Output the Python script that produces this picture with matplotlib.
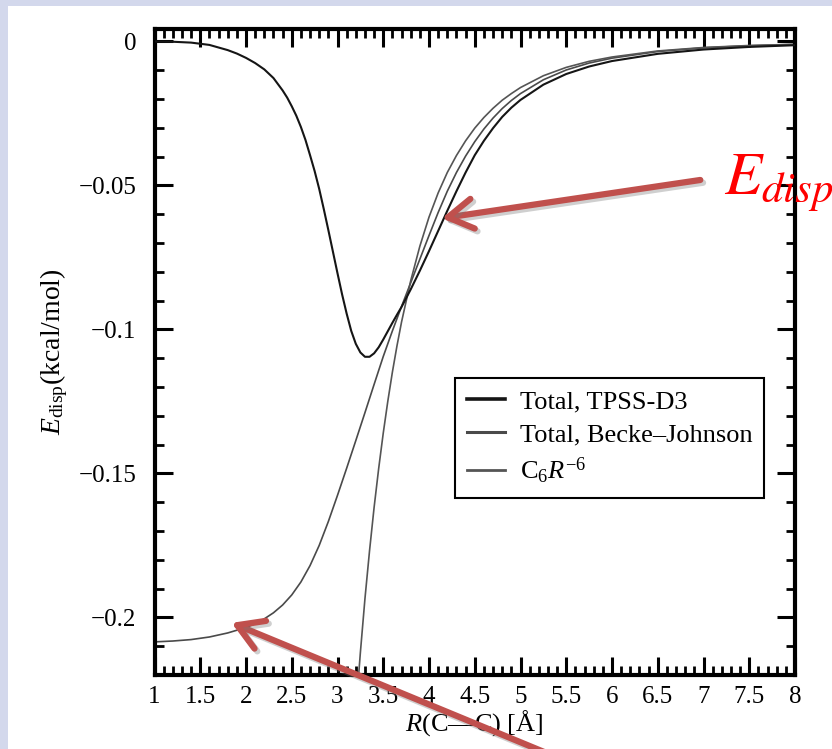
import numpy as np
import matplotlib
matplotlib.use("Agg")
import matplotlib.pyplot as plt
import matplotlib.patheffects as pe
from matplotlib.patches import Rectangle
from matplotlib.ticker import MultipleLocator, FixedLocator

plt.rcParams['font.family'] = ['Liberation Serif', 'DejaVu Serif']
plt.rcParams['mathtext.fontset'] = 'custom'
plt.rcParams['mathtext.rm'] = 'Liberation Serif'
plt.rcParams['mathtext.it'] = 'Liberation Serif:italic'

# ── Curves (R in Å, E in kcal/mol) ──
r_d3 = [1.0, 1.2, 1.4, 1.6, 1.8, 1.9, 2.0, 2.1, 2.2, 2.3, 2.4, 2.45, 2.5, 2.55,
        2.6, 2.65, 2.7, 2.75, 2.8, 2.85, 2.9, 2.95, 3.0, 3.05, 3.1, 3.15, 3.2,
        3.25, 3.3, 3.35, 3.4, 3.45, 3.5, 3.55, 3.6, 3.65, 3.7, 3.8, 3.9, 4.0,
        4.1, 4.2, 4.3, 4.4, 4.5, 4.6, 4.7, 4.8, 4.9, 5.0, 5.25, 5.5, 5.75, 6.0,
        6.5, 7.0, 7.5, 8.0]
e_d3 = [0.0, -0.0001, -0.0004, -0.0012, -0.0030, -0.0042, -0.0057, -0.0075,
        -0.0097, -0.0127, -0.0170, -0.0195, -0.0225, -0.0258, -0.0297, -0.0342,
        -0.0395, -0.0450, -0.0512, -0.0582, -0.0655, -0.0730, -0.0805, -0.0878,
        -0.0945, -0.1005, -0.1050, -0.1080, -0.1095, -0.1095, -0.1083, -0.1062,
        -0.1035, -0.1006, -0.0977, -0.0949, -0.0922, -0.0861, -0.0796, -0.0728,
        -0.0658, -0.0588, -0.0520, -0.0455, -0.0395, -0.0345, -0.0301, -0.0262,
        -0.0230, -0.0203, -0.0150, -0.0113, -0.0087, -0.0068, -0.0043, -0.0028,
        -0.0019, -0.0013]

r_bj = [1.0, 1.2, 1.4, 1.6, 1.8, 2.0, 2.1, 2.2, 2.3, 2.4, 2.5, 2.6, 2.7, 2.8,
        2.9, 3.0, 3.1, 3.2, 3.3, 3.4, 3.5, 3.6, 3.7, 3.8, 3.9, 4.0, 4.1, 4.2,
        4.3, 4.4, 4.5, 4.6, 4.7, 4.8, 4.9, 5.0, 5.25, 5.5, 5.75, 6.0, 6.5, 7.0,
        7.5, 8.0]
e_bj = [-0.2085, -0.2082, -0.2077, -0.2068, -0.2054, -0.2035, -0.2022, -0.2005,
        -0.1984, -0.1957, -0.1922, -0.1877, -0.1820, -0.1750, -0.1667, -0.1576,
        -0.1482, -0.1386, -0.1289, -0.1191, -0.1094, -0.1005, -0.0920, -0.0838,
        -0.0756, -0.0674, -0.0594, -0.0520, -0.0455, -0.0398, -0.0348, -0.0304,
        -0.0266, -0.0233, -0.0205, -0.0181, -0.0133, -0.0099, -0.0075, -0.0058,
        -0.0035, -0.0022, -0.0015, -0.0010]

r_c6 = [3.2, 3.25, 3.3, 3.35, 3.4, 3.45, 3.5, 3.55, 3.6, 3.65, 3.7, 3.8, 3.9,
        4.0, 4.1, 4.2, 4.3, 4.4, 4.5, 4.6, 4.7, 4.8, 4.9, 5.0, 5.25, 5.5, 5.75,
        6.0, 6.5, 7.0, 7.5, 8.0]
e_c6 = [-0.2328, -0.2122, -0.1935, -0.1769, -0.1618, -0.1483, -0.1360, -0.1249,
        -0.1148, -0.1057, -0.0974, -0.0831, -0.0711, -0.0610, -0.0526, -0.0455,
        -0.0396, -0.0345, -0.0301, -0.0264, -0.0232, -0.0204, -0.0181, -0.0160,
        -0.0119, -0.0090, -0.0069, -0.0054, -0.0033, -0.0021, -0.0014, -0.0010]

x_ticks = [1, 1.5, 2, 2.5, 3, 3.5, 4, 4.5, 5, 5.5, 6, 6.5, 7, 7.5, 8]
x_labels = ["1", "1.5", "2", "2.5", "3", "3.5", "4", "4.5", "5", "5.5",
            "6", "6.5", "7", "7.5", "8"]
y_ticks = [0, -0.05, -0.1, -0.15, -0.2]
y_labels = ["0", "\u22120.05", "\u22120.1", "\u22120.15", "\u22120.2"]

# ── Figure ──
fig = plt.figure(figsize=(8.32, 7.49), dpi=100)
fig.patch.set_facecolor('#d3d8ec')
fig.patches.append(Rectangle((8 / 832, 0), 1, 1 - 6 / 749, transform=fig.transFigure,
                             facecolor='white', edgecolor='none', zorder=-10))

ax = fig.add_axes([154.5 / 832, 74 / 749, 640.5 / 832, 646.5 / 749])
ax.set_facecolor('white')

ax.plot(r_d3, e_d3, color='#151515', lw=1.5, label='Total, TPSS-D3', zorder=3)
ax.plot(r_bj, e_bj, color='#4a4a4a', lw=1.2, label='Total, Becke–Johnson', zorder=2)
ax.plot(r_c6, e_c6, color='#555555', lw=1.2, label=r'C$_6R^{-6}$', zorder=2)

ax.set_xlim(1, 8)
ax.set_ylim(-0.22, 0.0045)

ax.xaxis.set_major_locator(FixedLocator(x_ticks))
ax.set_xticklabels(x_labels)
ax.xaxis.set_minor_locator(MultipleLocator(0.1))
ax.yaxis.set_major_locator(FixedLocator(y_ticks))
ax.set_yticklabels(y_labels)
ax.yaxis.set_minor_locator(MultipleLocator(0.01))

ax.tick_params(which='both', direction='in', top=True, right=True, colors='black')
ax.tick_params(which='major', length=13, width=2.2, labelsize=18)
ax.tick_params(which='minor', length=6.5, width=2.0)
ax.tick_params(axis='x', which='major', pad=8)
ax.tick_params(axis='y', which='major', pad=13)
for sp in ax.spines.values():
    sp.set_linewidth(3)

ax.set_xlabel('$R$(C—C) [Å]', fontsize=19, labelpad=0)
ax.set_ylabel(r'$E_{\mathrm{disp}}$(kcal/mol)', fontsize=20, labelpad=6)

leg = ax.legend(loc='upper left', bbox_to_anchor=(0.469, 0.459), borderaxespad=0,
                fontsize=19, frameon=True, fancybox=False, edgecolor='black',
                framealpha=1, handlelength=1.45, handletextpad=0.55,
                labelspacing=0.35, borderpad=0.45)
leg.get_frame().set_linewidth(1.5)
for ln, w in zip(leg.get_lines(), [2.6, 2.2, 2.0]):
    ln.set_linewidth(w)

# ── Red annotation arrows ──
shadow = [pe.SimpleLineShadow(offset=(2, -2), shadow_color='#777777', alpha=0.35), pe.Normal()]
arrow_kw = dict(arrowstyle='->,head_length=1.0,head_width=0.6', color='#c0504d', lw=4.5,
                mutation_scale=18, shrinkA=0, shrinkB=0, capstyle='round', joinstyle='round')

a1 = ax.annotate('', xy=(4.14, -0.0614), xytext=(6.965, -0.0481), arrowprops=arrow_kw,
                 annotation_clip=False)
a1.arrow_patch.set_path_effects(shadow)
a2 = ax.annotate('', xy=(1.842, -0.2019), xytext=(555 / 832, -0.01),
                 textcoords='figure fraction', arrowprops=arrow_kw, annotation_clip=False)
a2.arrow_patch.set_path_effects(shadow)

fig.text(724 / 832, 1 - 195 / 749, r'$E_{disp}$', color='red', fontsize=44,
         math_fontfamily='stix', ha='left', va='baseline', zorder=5)

fig.savefig('out.png', dpi=100, facecolor=fig.get_facecolor())
